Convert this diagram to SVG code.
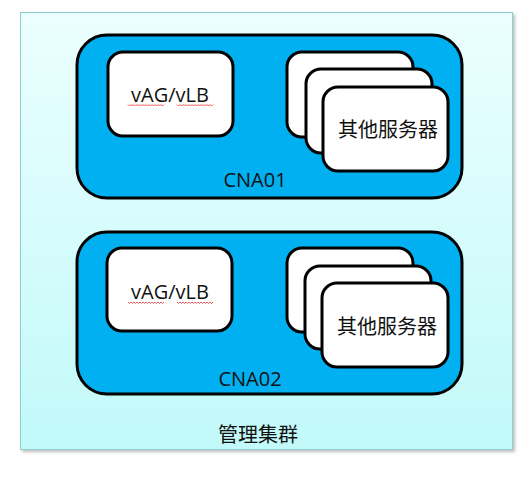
<svg xmlns="http://www.w3.org/2000/svg" width="531" height="481" viewBox="0 0 531 481">
<defs>
<linearGradient id="bg" x1="0" y1="0" x2="0" y2="1">
<stop offset="0" stop-color="#ecffff"/>
<stop offset="1" stop-color="#c2f9f9"/>
</linearGradient>
<filter id="sh" x="-5%" y="-5%" width="110%" height="110%">
<feDropShadow dx="2" dy="2" stdDeviation="1.5" flood-color="#000" flood-opacity="0.25"/>
</filter>
<path id="wave" d="M0,0 l1.5,1.5 l1.5,-1.5 l1.5,1.5 l1.5,-1.5 l1.5,1.5 l1.5,-1.5 l1.5,1.5 l1.5,-1.5 l1.5,1.5 l1.5,-1.5 l1.5,1.5 l1.5,-1.5 l1.5,1.5 l1.5,-1.5 l1.5,1.5 l1.5,-1.5 l1.5,1.5 l1.5,-1.5 l1.5,1.5 l1.5,-1.5 l1.5,1.5 l1.5,-1.5 l1.5,1.5 l1.5,-1.5"/>
</defs>
<style>
.cna{fill:#00b0f0;stroke:#000;stroke-width:3}
.box{fill:#fff;stroke:#000;stroke-width:3}
.t{font-family:"Open Sans","Liberation Sans","Noto Sans CJK SC",sans-serif;font-size:20px;fill:#111;text-anchor:middle}
.zh{font-family:"Noto Sans CJK SC","Noto Sans CJK JP",sans-serif;font-size:20px;fill:#111;text-anchor:middle}
.sq{fill:none;stroke:#e03030;stroke-width:0.8}
</style>
<g id="cluster">
<rect x="20.5" y="12.5" width="492" height="437" fill="url(#bg)" stroke="#8fcfcf" stroke-width="1" filter="url(#sh)"/>
<text class="zh" x="258" y="442">管理集群</text>
</g>
<g id="cna01">
<rect class="cna" x="77" y="35" width="385" height="163" rx="30"/>
<text class="t" x="255" y="187">CNA01</text>
</g>
<g id="vag1">
<rect class="box" x="108" y="52" width="125" height="84" rx="15"/>
<text class="t" x="170" y="102">vAG/vLB</text>
<use href="#wave" class="sq" x="128" y="104.5"/>
<use href="#wave" class="sq" x="177" y="104.5"/>
</g>
<g id="servers1">
<rect class="box" x="287" y="52" width="126" height="85" rx="15"/>
<rect class="box" x="306" y="69" width="126" height="84" rx="15"/>
<rect class="box" x="323" y="87" width="125" height="84" rx="15"/>
<text class="zh" x="388" y="137">其他服务器</text>
</g>
<g id="cna02">
<rect class="cna" x="77" y="232" width="385" height="162" rx="30"/>
<text class="t" x="250" y="386">CNA02</text>
</g>
<g id="vag2">
<rect class="box" x="107" y="248" width="125" height="83" rx="15"/>
<text class="t" x="170" y="299">vAG/vLB</text>
<use href="#wave" class="sq" x="128" y="302"/>
<use href="#wave" class="sq" x="177" y="302"/>
</g>
<g id="servers2">
<rect class="box" x="287" y="248" width="126" height="84" rx="15"/>
<rect class="box" x="305" y="266" width="126" height="83" rx="15"/>
<rect class="box" x="322" y="283" width="126" height="84" rx="15"/>
<text class="zh" x="387" y="334">其他服务器</text>
</g>
<g id="connectors"/>
</svg>
